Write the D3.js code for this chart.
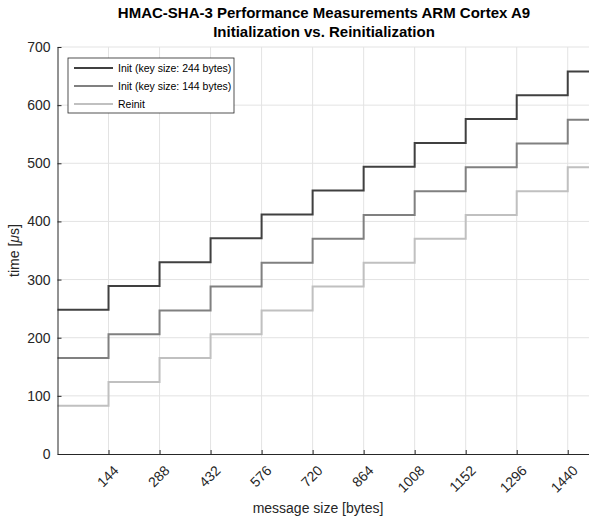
<!DOCTYPE html>
<html>
<head>
<meta charset="utf-8">
<script src="https://cdn.jsdelivr.net/npm/d3@7"></script>
<style>
  body { margin: 0; background: #fff; }
  text { font-family: "Liberation Sans", Arial, Helvetica, sans-serif; }
</style>
</head>
<body>
<svg id="chart" width="589" height="523"></svg>
<script>
const stepEdges = [0, 144, 288, 432, 576, 720, 864, 1008, 1152, 1296, 1440];
const xEnd = 1500;
const init244 = [248, 289, 330, 371, 412, 453, 494, 535, 576, 617, 658];
const init144 = [165, 206, 247, 288, 329, 370, 411, 452, 493, 534, 575];
const reinit = [83, 124, 165, 206, 247, 288, 329, 370, 411, 452, 493];
const seriesNames = ['Init (key size: 244 bytes)', 'Init (key size: 144 bytes)', 'Reinit'];
const seriesColors = ['#404040', '#808080', '#c0c0c0'];
const xTicks = [144, 288, 432, 576, 720, 864, 1008, 1152, 1296, 1440];
const yTicks = [0, 100, 200, 300, 400, 500, 600, 700];

const margin = { top: 47, left: 57.5, bottom: 69, right: 0 };
const W = 589, H = 523;

const svg = d3.select('#chart');

const x = d3.scaleLinear().domain([0, xEnd]).range([margin.left, W - margin.right]);
const y = d3.scaleLinear().domain([0, 700]).range([H - margin.bottom, margin.top]);

// grid
svg.append('g').selectAll('line.v').data(xTicks).join('line')
  .attr('x1', d => x(d)).attr('x2', d => x(d))
  .attr('y1', y(0)).attr('y2', y(700))
  .attr('stroke', '#e3e3e3').attr('stroke-width', 1);
svg.append('g').selectAll('line.h').data(yTicks.slice(1)).join('line')
  .attr('x1', x(0)).attr('x2', W)
  .attr('y1', d => y(d)).attr('y2', d => y(d))
  .attr('stroke', '#e3e3e3').attr('stroke-width', 1);

// lines
const line = d3.line().x(d => x(d[0])).y(d => y(d[1])).curve(d3.curveStepAfter);
const allSeries = [init244, init144, reinit];
allSeries.forEach((vals, i) => {
  const pts = stepEdges.map((e, k) => [e, vals[k]]);
  pts.push([xEnd, vals[vals.length - 1]]);
  svg.append('path').datum(pts)
    .attr('d', line)
    .attr('fill', 'none')
    .attr('stroke', seriesColors[i])
    .attr('stroke-width', 2);
});

// axes
const xAxis = d3.axisBottom(x).tickValues(xTicks).tickFormat(d3.format('d'))
  .tickSize(-4).tickSizeOuter(0);
const gx = svg.append('g').attr('transform', `translate(0,${y(0)})`).call(xAxis);
gx.select('.domain').attr('stroke', '#262626');
gx.selectAll('.tick line').attr('stroke', '#262626');
gx.selectAll('.tick text')
  .attr('fill', '#262626').attr('font-size', 14)
  .attr('text-anchor', 'end')
  .attr('x', 0).attr('y', 0).attr('dy', '0.35em')
  .attr('transform', 'translate(7,14) rotate(-45)');

const yAxis = d3.axisLeft(y).tickValues(yTicks).tickSize(-4).tickPadding(7).tickSizeOuter(0);
const gy = svg.append('g').attr('transform', `translate(${x(0)},0)`).call(yAxis);
gy.select('.domain').attr('stroke', '#262626');
gy.selectAll('.tick line').attr('stroke', '#262626');
gy.selectAll('.tick text').attr('fill', '#262626').attr('font-size', 14);

// titles
const title = svg.append('text').attr('text-anchor', 'middle')
  .attr('font-weight', 'bold').attr('font-size', 15).attr('fill', '#000');
title.append('tspan').attr('x', 324).attr('y', 18).text('HMAC-SHA-3 Performance Measurements ARM Cortex A9');
title.append('tspan').attr('x', 324).attr('y', 37).text('Initialization vs. Reinitialization');

svg.append('text').attr('x', 318).attr('y', 513).attr('text-anchor', 'middle')
  .attr('font-size', 14).attr('fill', '#262626').text('message size [bytes]');

const yl = svg.append('text').attr('transform', `translate(19,${y(350)}) rotate(-90)`)
  .attr('text-anchor', 'middle').attr('font-size', 14).attr('fill', '#262626');
yl.append('tspan').text('time [');
yl.append('tspan').attr('font-style', 'italic').text('\u03bc');
yl.append('tspan').text('s]');

// legend
const lg = svg.append('g').attr('transform', 'translate(68,58)');
lg.append('rect').attr('width', 166).attr('height', 55)
  .attr('fill', '#fff').attr('stroke', '#262626').attr('stroke-width', 0.8);
seriesNames.forEach((name, i) => {
  const yy = 10 + i * 18;
  lg.append('line').attr('x1', 6).attr('x2', 45).attr('y1', yy).attr('y2', yy)
    .attr('stroke', seriesColors[i]).attr('stroke-width', 2);
  lg.append('text').attr('x', 50).attr('y', yy).attr('dy', '0.35em')
    .attr('font-size', 10.5).attr('fill', '#000').text(name);
});
</script>
</body>
</html>
